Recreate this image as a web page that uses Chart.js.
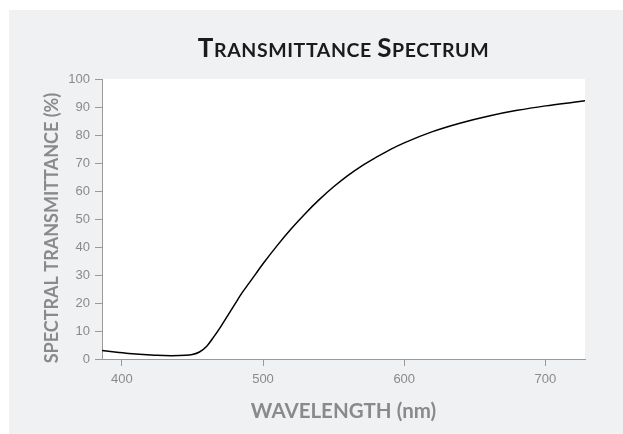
<!DOCTYPE html>
<html>
<head>
<meta charset="utf-8">
<script src="https://cdn.jsdelivr.net/npm/chart.js@4"></script>
<style>
  body { margin: 0; background: #fff; }
</style>
</head>
<body>
<canvas id="spectrum" width="623" height="434"></canvas>
<script>
const wavelengths = [386, 395, 405, 415, 425, 435, 445, 450, 455, 460, 465, 470, 475, 480, 485, 490, 495, 500,
    510, 520, 530, 540, 550, 560, 570, 580, 590, 600, 620, 640, 660, 680, 700, 720, 728];
const transmittance = [3.0, 2.5, 2.0, 1.6, 1.3, 1.2, 1.3, 1.6, 2.5, 4.5, 7.8, 11.5, 15.5, 19.5, 23.5, 27, 30.5, 34,
    40.5, 46.5, 52, 57, 61.5, 65.5, 69, 72, 74.8, 77.2, 81.2, 84.3, 86.8, 88.8, 90.4, 91.7, 92.2];
const xTicks = [400, 500, 600, 700];

const gray = '#8a8a8a';
const axisGray = '#9a9a9a';

const points = wavelengths.map((w, i) => ({ x: w, y: transmittance[i] }));

// panel background + white plot area
const backdrop = {
    id: 'backdrop',
    beforeDraw(chart) {
        const { ctx, chartArea: a } = chart;
        ctx.save();
        ctx.fillStyle = '#ffffff';
        ctx.fillRect(0, 0, chart.width, chart.height);
        ctx.fillStyle = '#f0f1f3';
        ctx.fillRect(9, 10, chart.width - 9, chart.height - 10);
        ctx.fillStyle = '#ffffff';
        ctx.fillRect(a.left, a.top, a.right - a.left, a.bottom - a.top);
        ctx.restore();
    }
};

// title in small caps and the two axis titles
const labels = {
    id: 'labels',
    afterDraw(chart) {
        const { ctx, chartArea: a } = chart;
        ctx.save();

        ctx.letterSpacing = '0.6px';
        const parts = [['T', 26], ['RANSMITTANCE', 19.5], [' ', 19.5], ['S', 26], ['PECTRUM', 19.5]];
        let total = 0;
        parts.forEach(([t, s]) => {
            ctx.font = 'bold ' + s + 'px Lato';
            total += ctx.measureText(t).width;
        });
        let x = (a.left + a.right) / 2 - total / 2;
        ctx.fillStyle = '#1b1b1b';
        ctx.textBaseline = 'alphabetic';
        parts.forEach(([t, s]) => {
            ctx.font = 'bold ' + s + 'px Lato';
            ctx.fillText(t, x, 57);
            x += ctx.measureText(t).width;
        });

        ctx.letterSpacing = '0px';
        ctx.fillStyle = gray;
        ctx.font = 'bold 20.5px Lato';
        ctx.textAlign = 'center';
        ctx.fillText('WAVELENGTH (nm)', (a.left + a.right) / 2, 418);

        ctx.font = 'bold 18px Lato';
        ctx.translate(58, 228);
        ctx.rotate(-Math.PI / 2);
        ctx.fillText('SPECTRAL TRANSMITTANCE (%)', 0, 0);
        ctx.restore();
    }
};

new Chart(document.getElementById('spectrum'), {
    type: 'scatter',
    data: {
        datasets: [{
            data: points,
            showLine: true,
            borderColor: '#000',
            borderWidth: 1.5,
            pointRadius: 0,
            cubicInterpolationMode: 'monotone',
        }]
    },
    options: {
        responsive: false,
        animation: false,
        layout: { padding: { top: 79, right: 38, left: 0, bottom: 0 } },
        plugins: {
            legend: { display: false },
            tooltip: { enabled: false },
        },
        scales: {
            x: {
                type: 'linear',
                min: 386,
                max: 728,
                afterFit: s => { s.height = 75; },
                afterBuildTicks: s => { s.ticks = xTicks.map(v => ({ value: v })); },
                grid: { drawOnChartArea: false, tickLength: 7, tickColor: axisGray },
                border: { color: axisGray },
                ticks: { color: gray, padding: 6, font: { family: 'Liberation Sans', size: 13 } },
            },
            y: {
                min: 0,
                max: 100,
                afterFit: s => { s.width = 102; },
                grid: { drawOnChartArea: false, tickLength: 7, tickColor: axisGray },
                border: { color: axisGray },
                ticks: { stepSize: 10, color: gray, padding: 5, font: { family: 'Liberation Sans', size: 13 } },
            }
        }
    },
    plugins: [backdrop, labels]
});
</script>
</body>
</html>
